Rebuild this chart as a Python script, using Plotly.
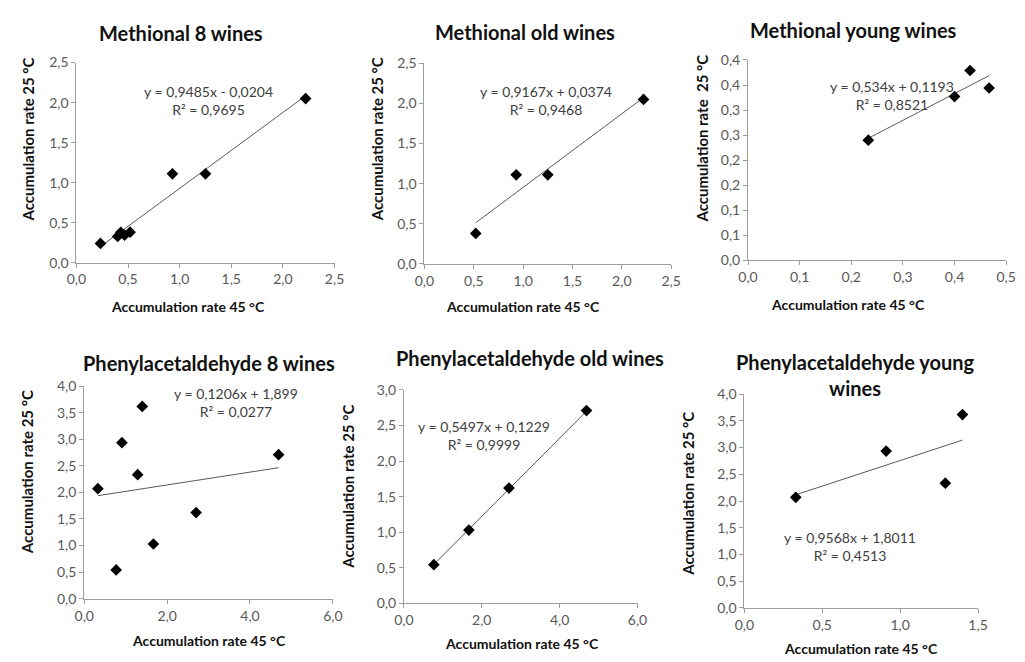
import plotly.graph_objects as go

W, H = 1025, 662

# ---- data: accumulation rates (45 °C vs 25 °C) ----
meth_young_x = [0.233, 0.40, 0.43, 0.467]
meth_young_y = [0.240, 0.327, 0.379, 0.344]
meth_old_x = [0.52, 0.93, 1.25, 2.22]
meth_old_y = [0.38, 1.11, 1.11, 2.05]
meth_all_x = meth_young_x + meth_old_x
meth_all_y = meth_young_y + meth_old_y

phen_young_x = [0.33, 0.91, 1.29, 1.40]
phen_young_y = [2.07, 2.935, 2.334, 3.617]
phen_old_x = [0.77, 1.67, 2.70, 4.69]
phen_old_y = [0.543, 1.03, 1.62, 2.71]
phen_all_x = phen_young_x + phen_old_x
phen_all_y = phen_young_y + phen_old_y

# linear trend lines (slope, intercept, R²)
trend_meth_all = (0.9485, -0.0204, 0.9695)
trend_meth_old = (0.9167, 0.0374, 0.9468)
trend_meth_young = (0.534, 0.1193, 0.8521)
trend_phen_all = (0.1206, 1.899, 0.0277)
trend_phen_old = (0.5497, 0.1229, 0.9999)
trend_phen_young = (0.9568, 1.8011, 0.4513)

eq_meth_all = ["y = 0,9485x - 0,0204", "R² = 0,9695"]
eq_meth_old = ["y = 0,9167x + 0,0374", "R² = 0,9468"]
eq_meth_young = ["y = 0,534x + 0,1193", "R² = 0,8521"]
eq_phen_all = ["y = 0,1206x + 1,899", "R² = 0,0277"]
eq_phen_old = ["y = 0,5497x + 0,1229", "R² = 0,9999"]
eq_phen_young = ["y = 0,9568x + 1,8011", "R² = 0,4513"]

titles = ["Methional 8 wines", "Methional old wines", "Methional young wines",
          "Phenylacetaldehyde 8 wines", "Phenylacetaldehyde old wines",
          "Phenylacetaldehyde young<br>wines"]
x_title = "Accumulation rate 45 °C"
y_title = "Accumulation rate 25 °C"
y_title_young = "Accumulation rate  25 °C"

# tick values / labels
ticks_25 = [0, 0.5, 1.0, 1.5, 2.0, 2.5]
ticks_25_txt = ["0,0", "0,5", "1,0", "1,5", "2,0", "2,5"]
ticks_05 = [0, 0.1, 0.2, 0.3, 0.4, 0.5]
ticks_05_txt = ["0,0", "0,1", "0,2", "0,3", "0,4", "0,5"]
ticks_04 = [0, 0.05, 0.10, 0.15, 0.20, 0.25, 0.30, 0.35, 0.40]
ticks_04_txt = ["0,0", "0,1", "0,1", "0,2", "0,2", "0,3", "0,3", "0,4", "0,4"]
ticks_40 = [0, 0.5, 1.0, 1.5, 2.0, 2.5, 3.0, 3.5, 4.0]
ticks_40_txt = ["0,0", "0,5", "1,0", "1,5", "2,0", "2,5", "3,0", "3,5", "4,0"]
ticks_30 = [0, 0.5, 1.0, 1.5, 2.0, 2.5, 3.0]
ticks_30_txt = ["0,0", "0,5", "1,0", "1,5", "2,0", "2,5", "3,0"]
ticks_60 = [0, 2, 4, 6]
ticks_60_txt = ["0,0", "2,0", "4,0", "6,0"]
ticks_15 = [0, 0.5, 1.0, 1.5]
ticks_15_txt = ["0,0", "0,5", "1,0", "1,5"]

FONT = "Lato"
TICK_COLOR = "#595959"
AXIS_COLOR = "#9c9c9c"
TEXT_COLOR = "#111111"


def px(x):
    return x / W


def py(y):
    return 1 - y / H


# panel layout in pixels: plot box (left, right, top, bottom), title, axis titles, equation
panels = [
    dict(x=meth_all_x, y=meth_all_y, trend=trend_meth_all, eq=eq_meth_all,
         box=(67.7, 331, 55, 260.3), xr=2.5, yr=2.5,
         xt=(ticks_25, ticks_25_txt), yt=(ticks_25, ticks_25_txt),
         title=(174.7, 25), xtitle=(182, 305), ytitle=(18.3, 134, y_title), eqpos=(202.5, 85)),
    dict(x=meth_old_x, y=meth_old_y, trend=trend_meth_old, eq=eq_meth_old,
         box=(422.7, 674.3, 55.7, 261.7), xr=2.5, yr=2.5,
         xt=(ticks_25, ticks_25_txt), yt=(ticks_25, ticks_25_txt),
         title=(525, 24), xtitle=(523, 305), ytitle=(374, 134, y_title), eqpos=(547, 85)),
    dict(x=meth_young_x, y=meth_young_y, trend=trend_meth_young, eq=eq_meth_young,
         box=(752.7, 1016, 52.3, 258), xr=0.5, yr=0.4,
         xt=(ticks_05, ticks_05_txt), yt=(ticks_04, ticks_04_txt),
         title=(860.7, 22), xtitle=(855, 303), ytitle=(705.7, 133, y_title_young), eqpos=(900, 80)),
    dict(x=phen_all_x, y=phen_all_y, trend=trend_phen_all, eq=eq_phen_all,
         box=(75.7, 329.3, 387, 605.3), xr=6, yr=4,
         xt=(ticks_60, ticks_60_txt), yt=(ticks_40, ticks_40_txt),
         title=(203.3, 363.3), xtitle=(203, 648.3), ytitle=(16.7, 475, y_title), eqpos=(230, 395)),
    dict(x=phen_old_x, y=phen_old_y, trend=trend_phen_old, eq=eq_phen_old,
         box=(401.7, 640, 391, 610), xr=6, yr=3,
         xt=(ticks_60, ticks_60_txt), yt=(ticks_30, ticks_30_txt),
         title=(530.3, 358.3), xtitle=(521.7, 651.7), ytitle=(345, 490, y_title), eqpos=(483.3, 428.3)),
    dict(x=phen_young_x, y=phen_young_y, trend=trend_phen_young, eq=eq_phen_young,
         box=(749, 987.3, 395.3, 614.7), xr=1.5, yr=4,
         xt=(ticks_15, ticks_15_txt), yt=(ticks_40, ticks_40_txt),
         title=(862.5, 376), xtitle=(868.3, 656.7), ytitle=(692, 497, y_title), eqpos=(856.7, 542.7)),
]

fig = go.Figure()
annotations = []
layout_axes = {}

for i, p in enumerate(panels, start=1):
    xa = "x" if i == 1 else f"x{i}"
    ya = "y" if i == 1 else f"y{i}"
    xkey = "xaxis" if i == 1 else f"xaxis{i}"
    ykey = "yaxis" if i == 1 else f"yaxis{i}"
    left, right, top, bottom = p["box"]

    slope, icpt, r2 = p["trend"]
    x0, x1 = min(p["x"]), max(p["x"])
    fig.add_trace(go.Scatter(
        x=[x0, x1], y=[slope * x0 + icpt, slope * x1 + icpt],
        mode="lines", line=dict(color="#5a5a5a", width=1),
        xaxis=xa, yaxis=ya, showlegend=False, hoverinfo="skip"))
    fig.add_trace(go.Scatter(
        x=p["x"], y=p["y"], mode="markers",
        marker=dict(symbol="diamond", size=9, color="black"),
        xaxis=xa, yaxis=ya, showlegend=False))

    common = dict(showgrid=False, zeroline=False, showline=True, linecolor=AXIS_COLOR,
                  linewidth=1, ticks="outside", ticklen=4, tickcolor=AXIS_COLOR,
                  tickfont=dict(family=FONT, size=14, color=TICK_COLOR), fixedrange=True)
    layout_axes[xkey] = dict(common, domain=[px(left), px(right)], range=[0, p["xr"]],
                             tickmode="array", tickvals=p["xt"][0], ticktext=p["xt"][1],
                             anchor=ya)
    layout_axes[ykey] = dict(common, domain=[py(bottom), py(top)], range=[0, p["yr"]],
                             tickmode="array", tickvals=p["yt"][0], ticktext=p["yt"][1],
                             anchor=xa)

    tx, ty = p["title"]
    annotations.append(dict(text=f"<b>{titles[i-1]}</b>", x=px(tx), y=py(ty), xref="paper",
                            yref="paper", showarrow=False, xanchor="center", yanchor="middle",
                            font=dict(family=FONT, size=20, color=TEXT_COLOR)))
    xx, xy = p["xtitle"]
    annotations.append(dict(text=f"<b>{x_title}</b>", x=px(xx), y=py(xy), xref="paper",
                            yref="paper", showarrow=False, xanchor="center", yanchor="middle",
                            font=dict(family=FONT, size=14, color=TEXT_COLOR)))
    yx, yy, ytxt = p["ytitle"]
    annotations.append(dict(text=f"<b>{ytxt}</b>", x=px(yx), y=py(yy), xref="paper",
                            yref="paper", showarrow=False, xanchor="center", yanchor="middle",
                            textangle=-90,
                            font=dict(family=FONT, size=15, color=TEXT_COLOR)))
    ex, ey = p["eqpos"]
    annotations.append(dict(text=p["eq"][0] + "<br>" + p["eq"][1], x=px(ex), y=py(ey + 9),
                            xref="paper", yref="paper", showarrow=False, xanchor="center",
                            yanchor="middle", align="center",
                            font=dict(family=FONT, size=14, color="#404040")))

fig.update_layout(
    width=W, height=H, margin=dict(l=0, r=0, t=0, b=0),
    paper_bgcolor="white", plot_bgcolor="white",
    annotations=annotations, **layout_axes)

fig.write_html("out.html", config={"displayModeBar": False})
